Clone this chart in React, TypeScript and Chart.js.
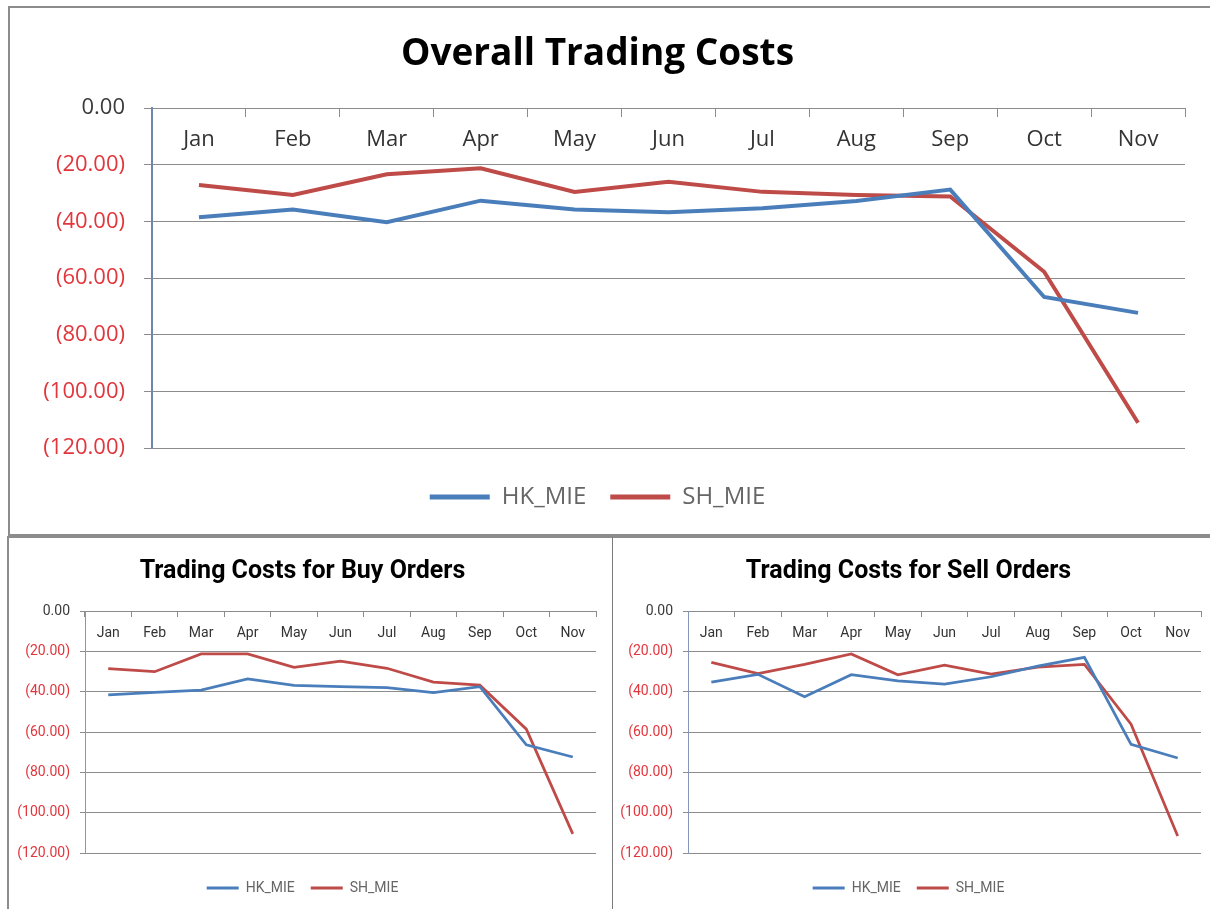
import React, { useEffect, useRef } from 'react';
import { Chart, registerables } from 'chart.js';

Chart.register(...registerables);

// ---------- data ----------
const months = ['Jan', 'Feb', 'Mar', 'Apr', 'May', 'Jun', 'Jul', 'Aug', 'Sep', 'Oct', 'Nov'];
const seriesNames = ['HK_MIE', 'SH_MIE'];

const overallHK = [-38.6, -35.8, -40.3, -32.7, -35.8, -36.8, -35.4, -32.8, -28.8, -66.7, -72.3];
const overallSH = [-27.2, -30.7, -23.4, -21.3, -29.6, -26.0, -29.6, -30.7, -31.2, -57.8, -111.1];

const buyHK = [-41.6, -40.3, -39.2, -33.7, -36.9, -37.5, -38.0, -40.5, -37.5, -66.4, -72.4];
const buySH = [-28.6, -30.1, -21.3, -21.3, -27.9, -24.9, -28.4, -35.3, -36.8, -58.6, -110.5];

const sellHK = [-35.3, -31.4, -42.5, -31.6, -34.7, -36.2, -32.6, -27.3, -23.0, -66.1, -72.9];
const sellSH = [-25.5, -31.0, -26.5, -21.3, -31.6, -26.8, -31.3, -27.8, -26.5, -56.1, -111.6];

const yMin = -120;
const yMax = 0;
const yStep = 20;

// ---------- styles ----------
const BLUE = '#4a7ebb';
const RED = '#be4b48';
const GRID = '#8c8c8c';
const NEG_TXT = '#e2363d';
const ZERO_TXT = '#3a3a3a';

function fmt(v: number): string {
  if (v === 0) return '0.00';
  if (v < 0) return '(' + Math.abs(v).toFixed(2) + ')';
  return v.toFixed(2);
}

interface Spec {
  title: string;
  hk: number[];
  sh: number[];
  w: number;
  h: number;
  family: string;
  titleFamily: string;
  titleSize: number;
  tickSize: number;
  legendSize: number;
  lineWidth: number;
  boxW: number;
  boxH: number;
  yWidth: number;
  yTickLen: number;
  yPad: number;
  xTickLen: number;
  xPad: number;
  padRight: number;
  padBottom: number;
  titlePadTop: number;
  titlePadBottom: number;
  legendPad: number;
  legendSpacer: number;
  axisColor: string;
  axisWidth: number;
}

function ChartBox({ spec, left, top }: { spec: Spec; left: number; top: number }) {
  const ref = useRef<HTMLCanvasElement | null>(null);
  useEffect(() => {
    if (!ref.current) return;
    const s = spec;
    const chart = new Chart(ref.current, {
      type: 'line',
      data: {
        labels: months,
        datasets: [
          {
            label: seriesNames[0],
            data: s.hk,
            borderColor: BLUE,
            backgroundColor: BLUE,
            borderWidth: s.lineWidth,
            pointRadius: 0,
            tension: 0,
            fill: false,
          },
          {
            label: seriesNames[1],
            data: s.sh,
            borderColor: RED,
            backgroundColor: RED,
            borderWidth: s.lineWidth,
            pointRadius: 0,
            tension: 0,
            fill: false,
          },
        ],
      },
      options: {
        responsive: false,
        animation: false,
        layout: { padding: { left: 0, right: s.padRight, top: 0, bottom: s.padBottom } },
        scales: {
          x: {
            type: 'category',
            position: { y: 0 } as any,
            offset: true,
            grid: {
              display: true,
              drawOnChartArea: false,
              drawTicks: true,
              tickLength: s.xTickLen,
              offset: true,
              color: GRID,
              tickColor: GRID,
            },
            border: { display: true, color: GRID, width: 1 },
            ticks: {
              color: '#333333',
              font: { family: s.family, size: s.tickSize },
              padding: s.xPad,
              maxRotation: 0,
              autoSkip: false,
            },
            afterFit: (sc: any) => {
              sc.height = 0;
            },
          },
          y: {
            type: 'linear',
            position: 'left',
            min: yMin,
            max: yMax,
            ticks: {
              stepSize: yStep,
              color: (c: any) => (c.tick && c.tick.value < 0 ? NEG_TXT : ZERO_TXT),
              font: { family: s.family, size: s.tickSize },
              padding: s.yPad,
              callback: (v: any) => fmt(Number(v)),
            },
            grid: { color: GRID, tickColor: GRID, tickLength: s.yTickLen, lineWidth: 1 },
            border: { display: true, color: s.axisColor, width: s.axisWidth },
            afterFit: (sc: any) => {
              sc.width = s.yWidth;
            },
          },
        },
        plugins: {
          title: {
            display: true,
            text: s.title,
            color: '#000000',
            font: { family: s.titleFamily, size: s.titleSize, weight: 'bold' },
            padding: { top: s.titlePadTop, bottom: s.titlePadBottom },
          },
          legend: {
            display: true,
            position: 'bottom',
            title: {
              display: true,
              text: '',
              font: { size: 10 },
              padding: { top: s.legendSpacer - 12, bottom: 0 },
            },
            labels: {
              boxWidth: s.boxW,
              boxHeight: s.boxH,
              padding: s.legendPad,
              color: '#333333',
              font: { family: s.family, size: s.legendSize },
              generateLabels: (ch: any) =>
                ch.data.datasets.map((d: any, i: number) => ({
                  text: d.label,
                  fillStyle: d.borderColor,
                  strokeStyle: d.borderColor,
                  lineWidth: 0,
                  hidden: false,
                  datasetIndex: i,
                })),
            },
          },
          tooltip: { enabled: false },
        },
      },
    } as any);
    return () => chart.destroy();
  }, [spec]);
  return (
    <canvas
      ref={ref}
      width={spec.w}
      height={spec.h}
      style={{ position: 'absolute', left, top, width: spec.w, height: spec.h }}
    />
  );
}

const topSpec: Spec = {
  title: 'Overall Trading Costs',
  hk: overallHK,
  sh: overallSH,
  w: 1198,
  h: 525,
  family: "'Open Sans', sans-serif",
  titleFamily: "'Open Sans', sans-serif",
  titleSize: 37,
  tickSize: 22,
  legendSize: 24,
  lineWidth: 4,
  boxW: 60,
  boxH: 5,
  yWidth: 142,
  yTickLen: 8,
  yPad: 19,
  xTickLen: 8,
  xPad: 11,
  padRight: 23,
  padBottom: 14,
  titlePadTop: 23.8,
  titlePadBottom: 31.8,
  legendPad: 24,
  legendSpacer: 13,
  axisColor: '#6e87ae',
  axisWidth: 2,
};

const buySpec: Spec = {
  title: 'Trading Costs for Buy Orders',
  hk: buyHK,
  sh: buySH,
  w: 603,
  h: 371,
  family: "Roboto, sans-serif",
  titleFamily: "Roboto, sans-serif",
  titleSize: 25,
  tickSize: 14,
  legendSize: 14,
  lineWidth: 2.75,
  boxW: 32,
  boxH: 3,
  yWidth: 76,
  yTickLen: 5,
  yPad: 10,
  xTickLen: 5,
  xPad: 8.6,
  padRight: 16,
  padBottom: 4,
  titlePadTop: 18.5,
  titlePadBottom: 24.5,
  legendPad: 16,
  legendSpacer: 12,
  axisColor: '#8497b8',
  axisWidth: 1,
};

const sellSpec: Spec = {
  ...buySpec,
  title: 'Trading Costs for Sell Orders',
  hk: sellHK,
  sh: sellSH,
  w: 592,
  yWidth: 72,
  padRight: 7,
};

export default function App() {
  return (
    <div>
      <div
        style={{
          position: 'absolute',
          left: 8,
          top: 6,
          width: 1202,
          height: 530,
          boxSizing: 'border-box',
          borderTop: '2px solid #8c8c8c',
          borderLeft: '2px solid #8c8c8c',
          borderBottom: '2px solid #8c8c8c',
        }}
      />
      <div
        style={{
          position: 'absolute',
          left: 7,
          top: 536,
          width: 606,
          height: 373,
          boxSizing: 'border-box',
          borderTop: '2px solid #8c8c8c',
          borderLeft: '2px solid #8c8c8c',
          borderRight: '1px solid #7a7a7a',
        }}
      />
      <div
        style={{
          position: 'absolute',
          left: 613,
          top: 536,
          width: 597,
          height: 373,
          boxSizing: 'border-box',
          borderTop: '2px solid #8c8c8c',
        }}
      />
      <ChartBox spec={topSpec} left={10} top={8} />
      <ChartBox spec={buySpec} left={9} top={538} />
      <ChartBox spec={sellSpec} left={616} top={538} />
    </div>
  );
}
